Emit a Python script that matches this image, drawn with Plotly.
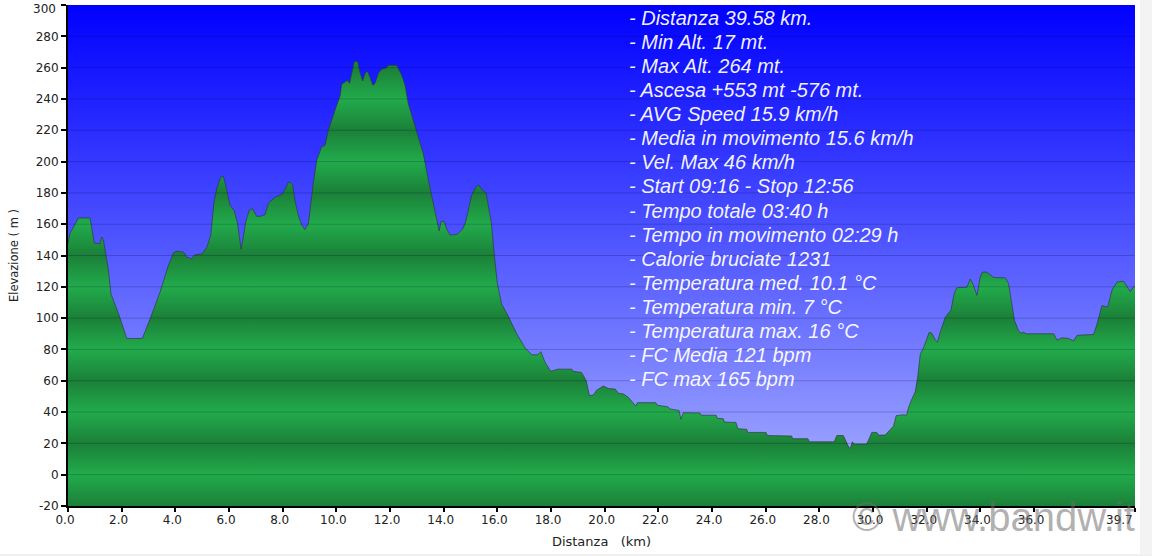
import plotly.graph_objects as go

# distance (km) and elevation (m)
dist = [0.0, 0.07, 0.2, 0.39, 0.82, 0.91, 0.98, 1.19, 1.25, 1.32, 1.42, 1.5, 1.6, 1.88, 2.19, 2.77, 3.06, 3.43, 3.74, 3.93,
        4.05, 4.32, 4.42, 4.61, 4.73, 4.98, 5.17, 5.32, 5.44, 5.54, 5.69, 5.79, 5.89, 6.04, 6.19, 6.31, 6.39, 6.45, 6.52, 6.63,
        6.76, 6.88, 7.03, 7.16, 7.34, 7.47, 7.72, 7.97, 8.15, 8.21, 8.3, 8.37, 8.46, 8.58, 8.71, 8.83, 8.96, 9.04, 9.14, 9.27,
        9.37, 9.45, 9.58, 9.7, 9.95, 10.08, 10.14, 10.2, 10.32, 10.41, 10.49, 10.57, 10.67, 10.8, 10.88, 10.98, 11.07, 11.17, 11.26, 11.36,
        11.44, 11.57, 11.69, 11.85, 11.94, 12.25, 12.44, 12.56, 12.68, 12.99, 13.24, 13.43, 13.62, 13.74, 13.83, 13.9, 14.01, 14.11, 14.24, 14.51,
        14.71, 14.82, 14.92, 15.04, 15.21, 15.31, 15.42, 15.58, 15.69, 15.78, 15.88, 16.0, 16.16, 16.41, 16.72, 17.03, 17.28, 17.49, 17.62, 17.78,
        17.99, 18.24, 18.77, 18.83, 19.14, 19.31, 19.43, 19.58, 19.7, 19.95, 20.14, 20.39, 20.51, 20.7, 20.88, 21.1, 21.16, 21.22, 21.9, 21.97,
        22.34, 22.44, 22.77, 22.84, 22.93, 23.55, 23.6, 24.15, 24.2, 24.42, 24.46, 24.89, 24.96, 25.29, 25.33, 26.01, 26.06, 26.97, 27.0, 27.57,
        27.63, 28.55, 28.65, 28.89, 29.02, 29.11, 29.16, 29.23, 29.29, 29.76, 29.85, 29.95, 30.14, 30.2, 30.45, 30.63, 30.76, 30.86, 31.13, 31.25,
        31.32, 31.45, 31.57, 31.66, 31.76, 31.88, 31.97, 32.09, 32.19, 32.32, 32.4, 32.5, 32.69, 32.9, 33.02, 33.12, 33.5, 33.62, 33.74, 33.87,
        33.99, 34.07, 34.24, 34.49, 34.93, 35.05, 35.17, 35.27, 35.42, 35.51, 35.61, 35.7, 36.73, 36.85, 37.04, 37.29, 37.47, 37.6, 38.22, 38.34,
        38.53, 38.74, 38.9, 39.09, 39.33, 39.58, 39.76]
elev = [148, 154, 158, 164, 164, 155, 148, 147.5, 152, 150, 140, 131.5, 115.5, 103, 87, 87, 99.6, 116.6, 133.6, 141.7,
        142.8, 142, 139, 138, 140.4, 141, 145, 153, 174, 182.5, 190, 190.6, 183.6, 172, 168.7, 161, 151.7, 144, 150.6, 162,
        169, 169.8, 165, 165, 166, 173.4, 177.3, 179, 184, 187, 186.4, 185, 175, 165.7, 159.4, 156.6, 160.4, 173, 186, 200.9,
        206, 209.4, 210.4, 220, 232.8, 240, 242, 249.4, 250.9, 252, 250, 256, 264, 263.6, 257, 251.5, 256.6, 257.7, 253, 248.7,
        250, 256.6, 259, 259.8, 261.5, 261.5, 255, 248.7, 237, 220, 205, 188, 173, 164.7, 155.7, 161.5, 162, 157, 153, 153.6,
        157, 161.5, 169, 178.5, 184, 185, 182, 180, 169, 160, 141, 122, 109, 101, 90, 81, 76.6, 76.6, 78.5, 71.7,
        66, 67.4, 67.4, 66, 65.3, 60, 50.4, 50.9, 54, 56.6, 55, 54.7, 52, 51.5, 49.4, 45.5, 43.8, 46, 46, 44.3,
        43.4, 42, 41, 35.5, 39.6, 39.4, 38, 38, 36, 35.7, 33.6, 33.4, 29.4, 29, 27, 27, 25, 24.7, 23, 23,
        21, 21, 25, 25, 20.6, 17, 17.4, 21, 19.6, 19.6, 22.8, 27, 27, 25.3, 25.3, 28.5, 31, 37.7, 38.3, 38,
        43, 48.5, 52.8, 62, 77, 81, 85.7, 90.9, 90.4, 86, 84.7, 91, 100.6, 105, 115.5, 119.4, 119.8, 125, 121, 114.5,
        126, 129.4, 129.4, 126, 125.7, 122, 109, 98.5, 92, 90.4, 91, 90, 90, 86, 87.4, 87, 85.5, 89, 89.6, 96,
        108, 107, 117.7, 123, 123.6, 117, 121]

x_ticks = [0, 2, 4, 6, 8, 10, 12, 14, 16, 18, 20, 22, 24, 26, 28, 30, 32, 34, 36, 39.76]
x_labels = ["0.0", "2.0", "4.0", "6.0", "8.0", "10.0", "12.0", "14.0", "16.0", "18.0", "20.0",
            "22.0", "24.0", "26.0", "28.0", "30.0", "32.0", "34.0", "36.0", ""]
y_ticks = [-20, 0, 20, 40, 60, 80, 100, 120, 140, 160, 180, 200, 220, 240, 260, 280, 300]
y_labels = ["-20", "0", "20", "40", "60", "80", "100", "120", "140", "160", "180", "200", "220", "240", "260", "280", ""]

notes = ["- Distanza 39.58 km.", "- Min Alt. 17 mt.", "- Max Alt. 264 mt.", "- Ascesa +553 mt -576 mt.",
         "- AVG Speed 15.9 km/h", "- Media in movimento 15.6 km/h", "- Vel. Max 46 km/h",
         "- Start 09:16 - Stop 12:56", "- Tempo totale 03:40 h", "- Tempo in movimento 02:29 h",
         "- Calorie bruciate 1231", "- Temperatura med. 10.1 °C", "- Temperatura min. 7 °C",
         "- Temperatura max. 16 °C", "- FC Media 121 bpm", "- FC max 165 bpm"]

y_min, y_max = -20, 300
x_max = 39.76
W, H = 1152, 556
L, R, T, B = 68, 17, 5, 50
plot_w, plot_h = W - L - R, H - T - B
ink = "#222222"

def px(x):
    return (x - L) / plot_w

def py(y):
    return 1 - (y - T) / plot_h

# green bands: bright at 0, 40, 80... dark at -20, 20, 60...
bright, dark = "rgb(34,171,76)", "rgb(27,128,56)"
stops = []
for i in range(17):
    stops.append([i / 16, dark if i % 2 == 0 else bright])
sky = [[0, "rgb(172,180,255)"], [0.5, "rgb(84,90,255)"], [1, "rgb(0,0,255)"]]

fig = go.Figure()
floor = go.Scatter(x=[0, x_max], y=[y_min, y_min], mode="lines", line=dict(width=0), hoverinfo="skip", showlegend=False)
fig.add_trace(floor)
fig.add_trace(go.Scatter(x=[0, x_max], y=[y_max, y_max], mode="lines", line=dict(width=0), fill="tonexty",
                         fillgradient=dict(type="vertical", colorscale=sky, start=y_min, stop=y_max),
                         hoverinfo="skip", showlegend=False))
fig.add_trace(floor)
fig.add_trace(go.Scatter(x=dist, y=elev, mode="lines", line=dict(color="rgba(45,55,55,0.65)", width=1), fill="tonexty",
                         fillgradient=dict(type="vertical", colorscale=stops, start=y_min, stop=y_max),
                         showlegend=False))

for v in y_ticks[1:-1]:
    fig.add_shape(type="line", xref="x", yref="y", x0=0, x1=x_max, y0=v, y1=v, layer="above",
                  line=dict(color="rgba(0,0,40,0.2)", width=1))

# strips at the picture's edge
fig.add_shape(type="rect", xref="paper", yref="paper", x0=px(1140), x1=px(1152), y0=py(556), y1=py(0),
              fillcolor="#f3f3f3", line_width=0, layer="below")
fig.add_shape(type="rect", xref="paper", yref="paper", x0=px(0), x1=px(1152), y0=py(556), y1=py(554),
              fillcolor="#f0f0f0", line_width=0, layer="below")

for i, t in enumerate(notes):
    fig.add_annotation(text="<i>" + t + "</i>", xref="paper", yref="paper", x=px(626.5), y=py(18 + i * 24.07),
                       xanchor="left", yanchor="middle", showarrow=False,
                       font=dict(family="Liberation Sans", size=20, color="rgba(255,255,255,0.95)"))

fig.add_annotation(text="300", xref="paper", yref="paper", x=px(58), y=py(9), xanchor="right", yanchor="middle",
                   showarrow=False, font=dict(family="DejaVu Sans", size=12, color=ink))
fig.add_annotation(text="39.7", xref="paper", yref="paper", x=px(1119), y=py(520), xanchor="center", yanchor="middle",
                   showarrow=False, font=dict(family="DejaVu Sans", size=12, color=ink))
fig.add_annotation(text="© www.bandw.it", xref="paper", yref="paper", x=px(1137), y=py(517), xanchor="right", yanchor="middle",
                   showarrow=False, font=dict(family="Liberation Sans", size=40, color="rgba(110,110,110,0.55)"))

fig.update_xaxes(range=[0, x_max], tickvals=x_ticks, ticktext=x_labels, ticks="outside", ticklen=4, tickwidth=2,
                 tickcolor="black", ticklabelshift=-3, ticklabelstandoff=-2, showgrid=False, zeroline=False, showline=True,
                 linecolor="black", linewidth=2, tickfont=dict(family="DejaVu Sans", size=12, color=ink),
                 title=dict(text="Distanza   (km)\u00a0\u00a0", standoff=10, font=dict(family="DejaVu Sans", size=13, color=ink)))
fig.update_yaxes(range=[y_min, y_max], tickvals=y_ticks, ticktext=y_labels, ticks="outside", ticklen=5, tickwidth=2, tickcolor="black",
                 showgrid=False, zeroline=False, showline=True, linecolor="black", linewidth=2,
                 tickfont=dict(family="DejaVu Sans", size=12, color=ink),
                 title=dict(text="Elevazione ( m )\u00a0\u00a0", standoff=15, font=dict(family="DejaVu Sans", size=11.5, color=ink)))
fig.update_layout(width=W, height=H, margin=dict(l=L, r=R, t=T, b=B, pad=0), paper_bgcolor="white", plot_bgcolor="white",
                  showlegend=False)
fig.write_html("out.html", post_script="document.body.style.margin='0';", config=dict(displayModeBar=False))
